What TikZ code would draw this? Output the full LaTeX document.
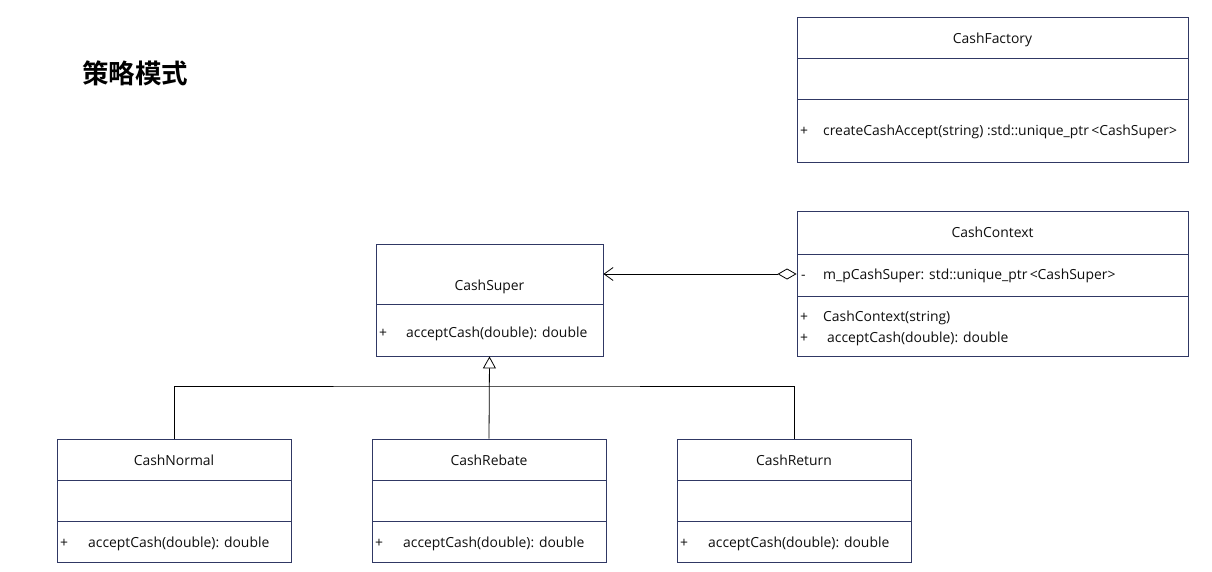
\documentclass[tikz,border=0pt]{standalone}
\usepackage{fontspec}
\setmainfont{Open Sans}
\newfontfamily\cjk{Noto Sans CJK SC Bold}
\usetikzlibrary{arrows.meta}
\definecolor{boxline}{RGB}{48,56,100}
\definecolor{txt}{RGB}{15,15,15}
\tikzset{
  umlbox/.style={draw=boxline, line width=0.9pt, fill=white, inner sep=0pt},
  divider/.style={draw=boxline, line width=0.9pt},
  lbl/.style={font=\fontsize{13.9}{16}\selectfont, text=txt, inner sep=0pt, anchor=base},
  mem/.style={lbl, anchor=base west},
  conn/.style={draw=black, line width=0.8pt},
}
\begin{document}
\begin{tikzpicture}[x=1pt,y=-1pt]
\useasboundingbox (0,0) rectangle (1212,572);

% Title
\node[font=\cjk\fontsize{26.5}{30}\selectfont, anchor=base west, inner sep=0pt] (title) at (82,84) {策略模式};

% CashFactory
\node[umlbox, minimum width=391pt, minimum height=145pt] (factory) at (992.5,89.5) {};
\draw[divider] (797,58) -- (1188,58);
\draw[divider] (797,99) -- (1188,99);
\node[lbl] (factoryT) at (992.5,44) {CashFactory};
\node[mem] (factoryP) at (800,136) {+};
\node[mem] (factoryM) at (823,136) {createCashAccept(string) :std::unique\_ptr\,<CashSuper>};

% CashContext
\node[umlbox, minimum width=391pt, minimum height=145pt] (context) at (992.5,283.5) {};
\draw[divider] (797,254) -- (1188,254);
\draw[divider] (797,296) -- (1188,296);
\node[lbl] (contextT) at (992.5,237) {CashContext};
\node[mem] (contextD) at (801,279) {-};
\node[mem] (contextA) at (823,279) {m\_pCashSuper: std::unique\_ptr\,<CashSuper>};
\node[mem] (contextP1) at (800,321) {+};
\node[mem] (contextM1) at (823,321) {CashContext(string)};
\node[mem] (contextP2) at (800,342) {+};
\node[mem] (contextM2) at (827,342) {acceptCash(double): double};

% CashSuper
\node[umlbox, minimum width=227pt, minimum height=112pt] (super) at (489.5,300) {};
\draw[divider] (376,304) -- (603,304);
\node[lbl] (superT) at (489.5,290) {CashSuper};
\node[mem] (superP) at (379,337) {+};
\node[mem] (superM) at (406,337) {acceptCash(double): double};

% Subclasses
\foreach \nm/\cx/\lx/\ttl in {normal/174/57/CashNormal, rebate/489/372/CashRebate, return/794/677/CashReturn}{
  \node[umlbox, minimum width=234pt, minimum height=123pt] (\nm) at (\cx,500.5) {};
  \draw[divider] (\lx,480) -- (\lx+234,480);
  \draw[divider] (\lx,521) -- (\lx+234,521);
  \node[lbl] (\nm T) at (\cx,465) {\ttl};
  \node[mem] (\nm P) at (\lx+3,547) {+};
  \node[mem] (\nm M) at (\lx+31,547) {acceptCash(double): double};
}

% Aggregation
\draw[conn, {Diamond[open, length=19pt, width=11pt]}-{Straight Barb[length=9pt, width=13pt, line width=0.8pt]}]
  (context.west |- 0,274) -- (super.east |- 0,274);

% Generalization
\coordinate (bar) at (489,386);
\draw[conn, -{Triangle[open, length=12pt, width=13pt, line width=0.8pt]}] (rebate.north) -- (super.south);
\draw[conn] (normal.north) |- (bar) -| (return.north);
\end{tikzpicture}
\end{document}
